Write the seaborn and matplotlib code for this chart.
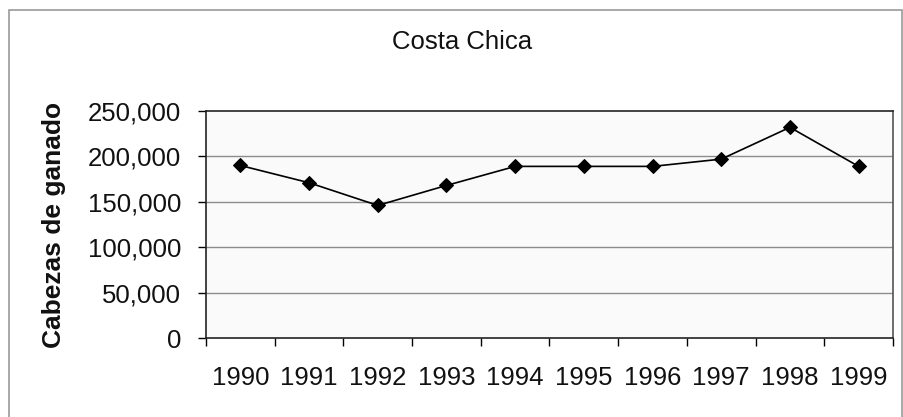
import matplotlib

matplotlib.use("Agg")
import matplotlib.pyplot as plt
import matplotlib.ticker as mticker
import pandas as pd
import seaborn as sns
from matplotlib.patches import Rectangle

# values
years = [1990, 1991, 1992, 1993, 1994, 1995, 1996, 1997, 1998, 1999]
cabezas = [190000, 171000, 146000, 168000, 189000, 189000, 189000, 197000, 232000, 189000]
y_ticks = [0, 50000, 100000, 150000, 200000, 250000]

title = "Costa Chica"
y_label = "Cabezas de ganado"

df = pd.DataFrame({"year": years, "cabezas": cabezas})

sns.set_theme(style="white")
plt.rcParams["font.family"] = ["Liberation Sans", "DejaVu Sans"]

fig = plt.figure(figsize=(9.04, 4.17), dpi=100)
ax = fig.add_axes([206 / 904, 1 - 338 / 417, 687 / 904, 227 / 417])
ax.set_facecolor("#fafafa")

# outer chart-area frame
fig.patches.append(
    Rectangle((9 / 904, -0.05), 893 / 904, 1.05 - 10 / 417, transform=fig.transFigure,
              fill=False, edgecolor="#9a9a9a", linewidth=1.2)
)

for v in y_ticks[1:-1]:
    ax.axhline(v, color="#8c8c8c", linewidth=1.0, zorder=1)

sns.lineplot(data=df, x="year", y="cabezas", ax=ax, color="black", linewidth=1.2,
             marker="D", markersize=7, markeredgecolor="black", zorder=3)

ax.set_xlim(years[0] - 0.5, years[-1] + 0.5)
ax.set_ylim(y_ticks[0], y_ticks[-1])
ax.set_yticks(y_ticks)
ax.yaxis.set_major_formatter(mticker.FuncFormatter(lambda v, _: f"{int(v):,}"))

# ticks on category boundaries, labels in the middle
ax.set_xticks([y - 0.5 for y in years] + [years[-1] + 0.5])
ax.set_xticklabels([])
ax.set_xticks(years, minor=True)
ax.set_xticklabels([str(y) for y in years], minor=True)
ax.tick_params(axis="x", which="major", direction="out", length=6, width=1, color="black",
               bottom=True)
ax.tick_params(axis="x", which="minor", length=0, pad=20, labelsize=18.5, labelcolor="#111111")
ax.tick_params(axis="y", direction="out", length=6, width=1, color="black", left=True,
               pad=12, labelsize=18.5, labelcolor="#111111")

for side in ["left", "bottom", "top", "right"]:
    ax.spines[side].set_visible(True)
    ax.spines[side].set_color("#222222")
    ax.spines[side].set_linewidth(1.2)
ax.spines["right"].set_color("#555555")

ax.set_xlabel("")
ax.set_ylabel(y_label, fontsize=19, fontweight="bold", color="#111111")
ax.yaxis.set_label_coords((66 - 206) / 687, 0.5)

fig.text(462 / 904, 1 - 49 / 417, title, ha="center", va="baseline", fontsize=18.5,
         color="#111111")

fig.savefig("out.png", dpi=100, facecolor="white")
